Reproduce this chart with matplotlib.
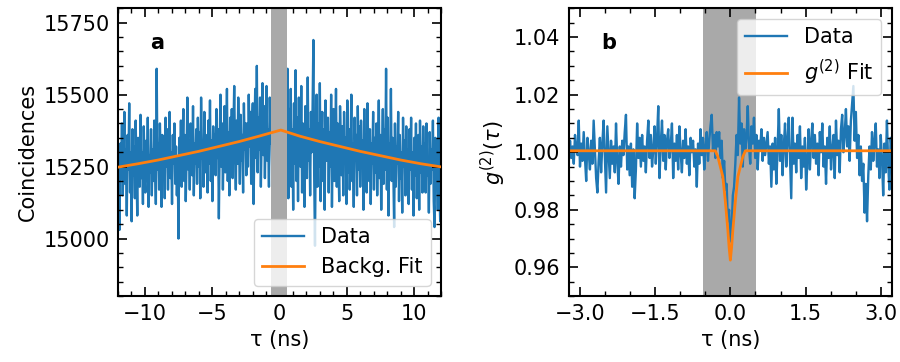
import numpy as np
import matplotlib
matplotlib.use("Agg")
import matplotlib.pyplot as plt
from matplotlib.ticker import MultipleLocator, FuncFormatter

# ---------------------------------------------------------------
# values
# ---------------------------------------------------------------

# panel a: raw coincidences, evenly spaced over -12 .. 12 ns
counts_a = [
    15180, 15290, 15030, 15330, 15210, 15400, 15150, 15270, 15440, 15190, 15310, 15080, 15360, 15240, 15470, 15160, 15300, 15060, 15380, 15220,
    15320, 15140, 15410, 15230, 15080, 15350, 15270, 15180, 15430, 15210, 15300, 15120, 15390, 15250, 15160, 15340, 15200, 15420, 15110, 15290,
    15230, 15380, 15150, 15310, 15200, 15410, 15260, 15120, 15590, 15240, 15330, 15170, 15400, 15280, 15110, 15360, 15220, 15300, 15140, 15420,
    15250, 15380, 15170, 15330, 15440, 15210, 15300, 15120, 15360, 15260, 15400, 15190, 15320, 15150, 15280, 15000, 15350, 15230, 15410, 15180,
    15310, 15450, 15200, 15360, 15130, 15280, 15490, 15240, 15340, 15170, 15400, 15290, 15220, 15460, 15150, 15330, 15260, 15380, 15190, 15420,
    15250, 15370, 15140, 15490, 15280, 15330, 15180, 15440, 15230, 15360, 15300, 15160, 15410, 15260, 15480, 15200, 15340, 15130, 15390, 15290,
    15360, 15220, 15450, 15280, 15380, 15070, 15330, 15500, 15250, 15400, 15170, 15340, 15460, 15230, 15310, 15520, 15200, 15370, 15150, 15420,
    15280, 15450, 15210, 15380, 15530, 15300, 15170, 15410, 15260, 15490, 15340, 15190, 15430, 15270, 15360, 15160, 15470, 15310, 15400, 15220,
    15400, 15250, 15500, 15320, 15440, 15190, 15380, 15470, 15120, 15350, 15520, 15280, 15600, 15230, 15420, 15310, 15490, 15180, 15370, 15540,
    15290, 15460, 15210, 15400, 15530, 15270, 15380, 15180, 15490, 15330, 15420, 15250, 15510, 15360, 15300, 15450, 15220, 15400, 15330, 15470,
    15350, 15420, 15300, 15460, 15380, 15250, 15440, 15330, 15400, 15360, 15590, 15140, 15450, 15230, 15520, 15180, 15380, 15100, 15470, 15260,
    15585, 15200, 15420, 15130, 15490, 15310, 15250, 15530, 15160, 15400, 15280, 15110, 15460, 15340, 15210, 15560, 15270, 15380, 15150, 15440,
    15300, 15450, 15690, 15220, 14975, 15360, 15500, 15180, 15400, 15250, 15540, 15130, 15330, 15440, 15200, 15380, 15100, 15480, 15270, 15350,
    15420, 15160, 15370, 15250, 15500, 15110, 15330, 15450, 15200, 15300, 15520, 15180, 15400, 15270, 15130, 15460, 15340, 15220, 15390, 15150,
    15440, 15260, 15350, 15120, 15480, 15230, 15380, 15170, 15310, 15500, 15200, 15330, 15110, 15420, 15280, 15360, 15150, 15460, 15240, 15390,
    15180, 15410, 15270, 15340, 15100, 15450, 15220, 15360, 15160, 15470, 15300, 15200, 15380, 15120, 15330, 15260, 15440, 15170, 15350, 15230,
    15400, 15150, 15320, 15480, 15210, 15360, 15100, 15300, 15450, 15190, 15380, 15240, 15590, 15170, 15420, 15080, 15330, 15260, 15520, 15200,
    15350, 15230, 15040, 15400, 15180, 15320, 15260, 15440, 15130, 15360, 15210, 15300, 15090, 15420, 15250, 15340, 15150, 15390, 15200, 15310,
    15120, 15380, 15240, 15420, 15170, 15300, 15080, 15350, 15220, 15400, 15140, 15280, 15360, 15100, 15410, 15230, 15320, 15160, 15390, 15250,
    15330, 15160, 15400, 15220, 15280, 15090, 15370, 15190, 15310, 15240, 15410, 15130, 15040, 15350, 15210, 15290, 15100, 15420, 15180, 15060,
    15270,
]

# panel a: background fit
fit_a_tau = [-12, -10.5, -9, -7.5, -6, -4.5, -3, -1.5, 0.1, 1.5, 3, 4.5, 6, 7.5, 9, 10.5, 12]
fit_a_val = [15248, 15260, 15273, 15288, 15303, 15320, 15337, 15356, 15377,
             15356, 15337, 15320, 15303, 15288, 15273, 15260, 15249]

# panel b: normalised g2, deviation from 1 in units of 1e-3, over -3.22 .. 3.22 ns
g2_dev = [
    -3, 4, -2, 2, -4, 6, 1, -1, 11, -5, 3, -3, 7, -2, -10, 5, 0, -6, 4, -4,
    11, 1, -9, -14, -3, 5, -7, 3, 11, -2, -14, 9, 0, -9, 4, -4, 2, -7, 10, -3,
    -11, 2, -5, 4, -1, 7, 13, -6, 2, -8, 3, -12, 1, -16, -6, 10, -2, 5, -5, 6,
    -3, 2, -7, 4, 11, -2, 6, -5, 1, 9, -4, 5, 16, -9, 3, 11, -3, 6, -6, 4,
    8, -2, 2, 10, -9, 3, -3, 6, -6, 9, 0, -7, 4, -2, 8, -4, 2, -8, 5, 0,
    4, -5, 1, -12, 3, -4, 8, -1, 5, -6, 2, 7, -3, 4, 9, 13, 1, 6, -2, 7,
    2, 7, -2, 4, -9, -3, -13, -11, -24, -20, -31, -27, -15, -12, -4, 6, -1, 19, 3, 10,
    -5, 8, 1, 5, 16, 2, -4, 9, 3, 12, -2, 6, -6, 4, 1, 8, -3, 5, -1, 3,
    7, -4, 2, -12, 3, -6, 5, -11, 1, 15, -3, 6, -8, 2, 10, -5, 4, 12, -2, -16,
    12, -4, 3, -7, 6, -2, 9, -9, 2, -5, 5, -13, -3, 8, -6, 4, 10, -2, 6, -4,
    3, -8, 7, 0, 10, -5, 2, -11, 5, -2, 9, -6, 1, 6, -9, 11, -1, 4, -7, 8,
    13, 0, 6, 15, 2, 9, -3, 11, 17, 23, 4, 14, -2, 6, -8, 2, -10, -4, -21, -11,
    -24, -8, 2, -6, 7, -3, 4, 10, -5, 1, -9, 6, -2, -15, 3, -7, 11, -4, -13, 5,
    0,
]

# panel b: g2 fit
fit_b_tau = [-3.22, -0.3, -0.25, -0.2, -0.15, -0.1, -0.075, -0.05, -0.025, 0,
             0.025, 0.05, 0.075, 0.1, 0.15, 0.2, 0.25, 0.3, 3.22]
fit_b_val = [1.0005, 1.0005, 0.9985, 0.995, 0.9915, 0.983, 0.978, 0.973, 0.967, 0.9625,
             0.967, 0.973, 0.978, 0.983, 0.9915, 0.995, 0.9985, 1.0005, 1.0005]

band_a = (-0.6, 0.55)
band_b = (-0.54, 0.52)

tau_a = np.linspace(-12, 12, len(counts_a))
tau_b = np.linspace(-3.22, 3.22, len(g2_dev))
g2_b = 1 + np.array(g2_dev) / 1000.0

# ---------------------------------------------------------------
# figure
# ---------------------------------------------------------------
plt.rcParams['font.size'] = 15
plt.rcParams['axes.linewidth'] = 1.5

fig = plt.figure(figsize=(9, 3.62), dpi=100)
ax_a = fig.add_axes([0.131, 0.182, 0.359, 0.795])
ax_b = fig.add_axes([0.632, 0.182, 0.359, 0.795])


def style_ticks(ax):
    ax.tick_params(which='both', direction='in', top=True, right=True)
    ax.tick_params(which='major', length=6.5, width=1.2, pad=6)
    ax.tick_params(which='minor', length=3.5, width=1.0)


def fmt(digits):
    # fixed decimals, with a real minus sign like the default formatter
    return FuncFormatter(lambda v, p: f'{v:.{digits}f}'.replace('-', '\u2212'))


# ---- panel a
ax_a.plot(tau_a, counts_a, color='C0', lw=1.7, label='Data', zorder=1)
ax_a.axvspan(*band_a, color='darkgray', lw=0, zorder=2)
ax_a.plot(fit_a_tau, fit_a_val, color='C1', lw=2, label='Backg. Fit', zorder=3)
ax_a.set_xlim(-12, 12)
ax_a.set_ylim(14800, 15800)
ax_a.xaxis.set_major_locator(MultipleLocator(5))
ax_a.xaxis.set_minor_locator(MultipleLocator(1))
ax_a.yaxis.set_major_locator(MultipleLocator(250))
ax_a.yaxis.set_minor_locator(MultipleLocator(50))
style_ticks(ax_a)
ax_a.set_xlabel('τ (ns)', labelpad=4)
ax_a.set_ylabel('Coincidences')
ax_a.text(0.1, 0.86, 'a', transform=ax_a.transAxes, fontweight='bold')
leg = ax_a.legend(loc='lower right', framealpha=0.8)
leg.set_zorder(5)

# ---- panel b
ax_b.axvspan(*band_b, color='darkgray', lw=0, zorder=0)
ax_b.plot(tau_b, g2_b, color='C0', lw=1.7, label='Data', zorder=1)
ax_b.plot(fit_b_tau, fit_b_val, color='C1', lw=2, label='$g^{(2)}$ Fit', zorder=2)
ax_b.set_xlim(-3.22, 3.22)
ax_b.set_ylim(0.95, 1.05)
ax_b.xaxis.set_major_locator(MultipleLocator(1.5))
ax_b.xaxis.set_minor_locator(MultipleLocator(0.5))
ax_b.yaxis.set_major_locator(MultipleLocator(0.02))
ax_b.yaxis.set_minor_locator(MultipleLocator(0.005))
ax_b.xaxis.set_major_formatter(fmt(1))
ax_b.yaxis.set_major_formatter(fmt(2))
style_ticks(ax_b)
ax_b.set_xlabel('τ (ns)', labelpad=4)
ax_b.set_ylabel('$g^{(2)}(\\tau)$')
ax_b.text(0.1, 0.86, 'b', transform=ax_b.transAxes, fontweight='bold')
ax_b.legend(loc='upper right', framealpha=0.8)

fig.savefig('out.png', dpi=100)
